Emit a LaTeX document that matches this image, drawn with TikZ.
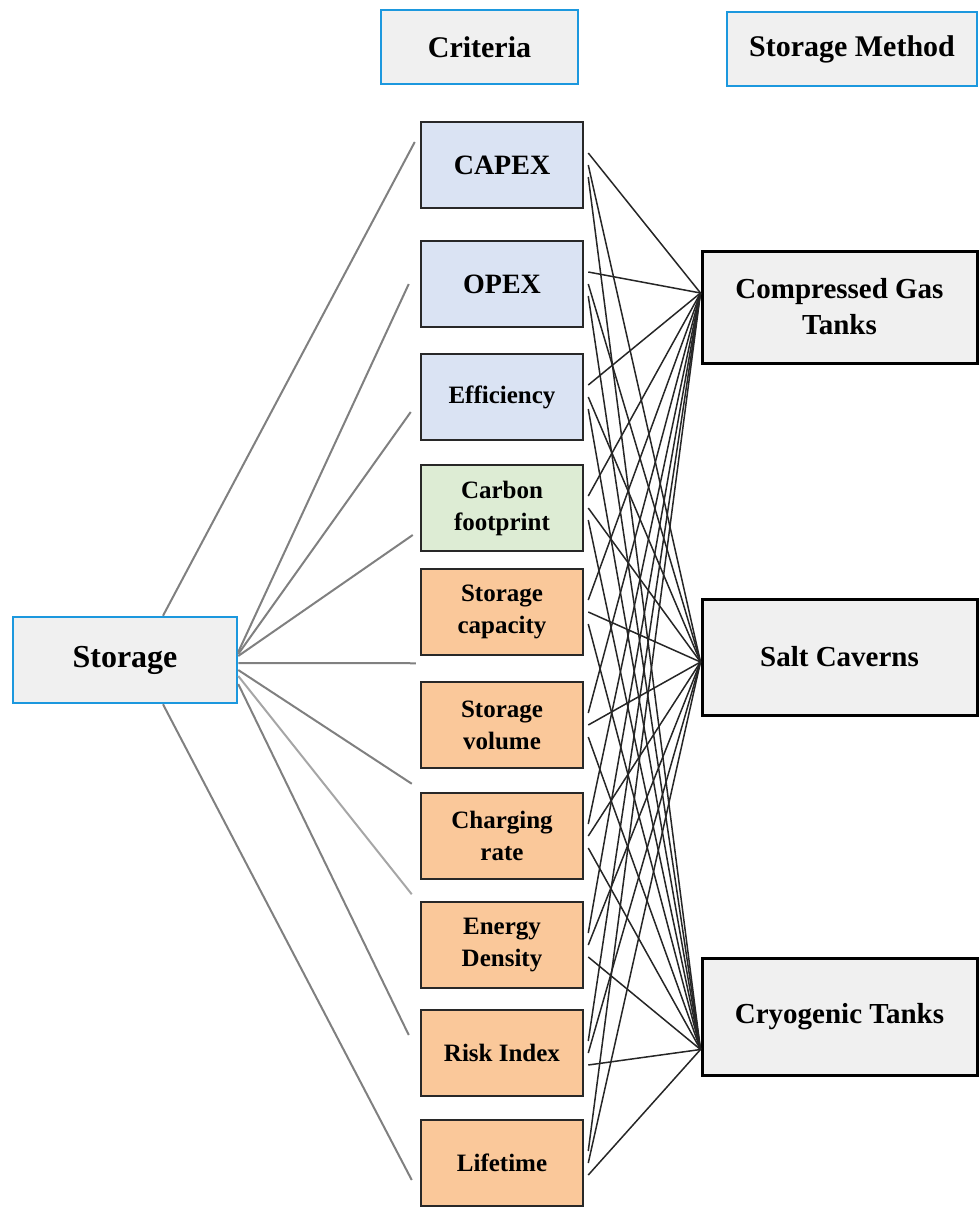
\documentclass[tikz,border=0pt]{standalone}
\usepackage{fontspec}
\setmainfont{Liberation Serif}
\usetikzlibrary{calc}
\definecolor{hdrblue}{RGB}{28,152,222}
\definecolor{boxgray}{RGB}{240,240,240}
\definecolor{critblue}{RGB}{218,227,243}
\definecolor{critgreen}{RGB}{221,236,212}
\definecolor{critorange}{RGB}{250,200,154}
\definecolor{edgegray}{RGB}{40,40,40}
\definecolor{branch}{RGB}{128,128,128}
\begin{document}
\begin{tikzpicture}[x=1pt,y=-1pt,
  box/.style={rectangle, inner sep=0pt, align=center},
  hdr/.style={box, draw=hdrblue, line width=2.5pt, fill=boxgray,
    font=\fontsize{30}{34}\selectfont\bfseries},
  crit/.style={box, draw=edgegray, line width=2.5pt, minimum width=162pt,
    minimum height=86pt, font=\fontsize{25}{32}\selectfont\bfseries},
  critbig/.style={crit, font=\fontsize{28}{32}\selectfont\bfseries},
  method/.style={box, draw=black, line width=3pt, fill=boxgray, minimum width=275pt,
    font=\fontsize{29}{36}\selectfont\bfseries},
  branchline/.style={draw=branch, line width=2pt},
  link/.style={draw=black!85, line width=1.5pt}
]
\useasboundingbox (0,0) rectangle (979,1207);

% column headers
\node[hdr, minimum width=197pt, minimum height=74pt] (hcrit) at (479.5,47) {Criteria};
\node[hdr, minimum width=250pt, minimum height=74pt] (hmeth) at (852,49) {Storage Method};

% goal
\node[hdr, minimum width=224pt, minimum height=86pt, font=\fontsize{32}{34}\selectfont\bfseries] (store) at (125,660) {Storage};

% criteria
\node[critbig, fill=critblue] (capex) at (502,165) {CAPEX};
\node[critbig, fill=critblue] (opex) at (502,284) {OPEX};
\node[crit, fill=critblue] (eff) at (502,397) {Efficiency};
\node[crit, fill=critgreen] (carb) at (502,508) {Carbon\\footprint};
\node[crit, fill=critorange] (scap) at (502,612) {Storage\\capacity};
\node[crit, fill=critorange] (svol) at (502,725) {Storage\\volume};
\node[crit, fill=critorange] (crate) at (502,836) {Charging\\rate};
\node[crit, fill=critorange] (edens) at (502,945) {Energy\\Density};
\node[crit, fill=critorange] (risk) at (502,1053) {Risk Index};
\node[crit, fill=critorange] (life) at (502,1163) {Lifetime};

% storage methods
\node[method, minimum height=112pt] (cgt) at (839.5,307) {Compressed Gas\\Tanks};
\node[method, minimum height=116pt] (salt) at (839.5,657) {Salt Caverns};
\node[method, minimum height=117pt] (cryo) at (839.5,1016.5) {Cryogenic Tanks};

% goal to criteria
\draw[branchline] ($(store.north)+(38,0)$) -- ($(capex.west)+(-5,-23)$);
\draw[branchline] ($(store.east)+(0,-8)$) -- ($(opex.west)+(-11,0)$);
\draw[branchline] ($(store.east)+(0,-6)$) -- ($(eff.west)+(-9,15)$);
\draw[branchline] ($(store.east)+(0,-4)$) -- ($(carb.west)+(-7,27)$);
\draw[branchline] ($(store.east)+(0,3)$) -- ($(scap.south west)+(-4,7)$);
\draw[branchline] ($(store.east)+(0,10)$) -- ($(crate.north west)+(-8,-8)$);
\draw[branchline, draw=branch!70] ($(store.east)+(0,16)$) -- ($(crate.south west)+(-8,14)$);
\draw[branchline] ($(store.east)+(0,24)$) -- ($(risk.west)+(-11,-18)$);
\draw[branchline] ($(store.south)+(38,0)$) -- ($(life.west)+(-8,17)$);

% criteria to storage methods
\coordinate (cgtin) at ($(cgt.west)+(0,-14)$);
\coordinate (saltin) at ($(salt.west)+(0,5)$);
\coordinate (cryoin) at ($(cryo.west)+(0,33)$);
\foreach \c in {capex,opex,eff,carb,scap,svol,crate,edens,risk,life}{
  \draw[link] ($(\c.east)+(4,-12)$) -- (cgtin);
  \draw[link] ($(\c.east)+(4,0)$) -- (saltin);
  \draw[link] ($(\c.east)+(4,12)$) -- (cryoin);
}
\end{tikzpicture}
\end{document}
